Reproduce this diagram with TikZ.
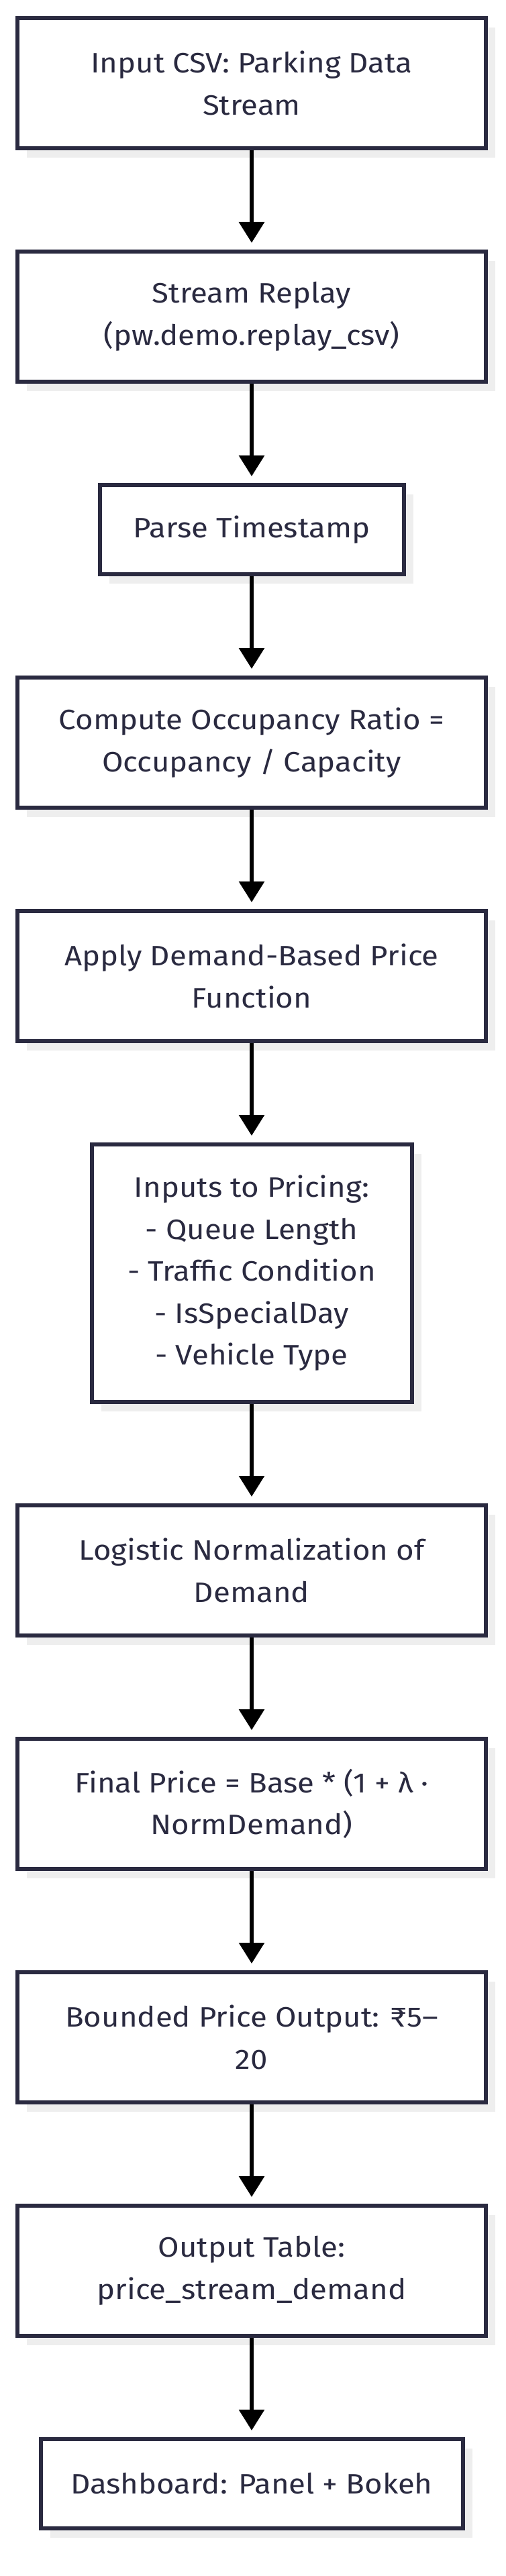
\documentclass[tikz,border=0pt]{standalone}
\usepackage{fontspec}
\setmainfont{Fira Sans}[FakeStretch=1.09]
\usepackage{tikz}
\usetikzlibrary{positioning}
\usetikzlibrary{arrows.meta}
\usetikzlibrary{shadows}
\definecolor{boxline}{HTML}{2A2A40}
\definecolor{boxshade}{HTML}{EEEEEE}
\tikzstyle{process} = [rectangle, minimum width=6.98cm, minimum height=1.94cm, text centered, align=center, draw=boxline, line width=0.06cm, fill=white, text=boxline, font=\fontsize{11.9pt}{17.8pt}\selectfont, drop shadow={shadow xshift=0.14cm, shadow yshift=-0.14cm, fill=boxshade, opacity=1}]
\tikzstyle{short} = [process, minimum height=1.33cm]
\tikzstyle{arrow} = [line width=0.06cm, -{Triangle[width=0.37cm,length=0.31cm]}, shorten >=0.1cm]

\begin{document}
\begin{tikzpicture}[node distance=1.48cm]
        \useasboundingbox (0,0) rectangle (7.54,-38.40);
        \node (input) [process] at (3.75,-1.24) {Input CSV: Parking Data\\Stream};
        \node (replay) [process, below=of input] {Stream Replay\\(pw.demo.replay\_csv)};
        \node (parse) [short, minimum width=4.53cm, below=of replay] {Parse Timestamp};
        \node (occupancy) [process, below=of parse] {Compute Occupancy Ratio =\\Occupancy / Capacity};
        \node (demand) [process, below=of occupancy] {Apply Demand-Based Price\\Function};
        \node (inputs) [process, minimum width=4.77cm, minimum height=3.84cm, below=of demand] {Inputs to Pricing:\\- Queue Length\\- Traffic Condition\\- IsSpecialDay\\- Vehicle Type};
        \node (logistic) [process, below=of inputs] {Logistic Normalization of\\Demand};
        \node (final) [process, below=of logistic] {Final Price = Base * (1 + λ ·\\NormDemand)};
        \node (bounded) [process, below=of final] {Bounded Price Output: ₹5–\\20};
        \node (table) [process, below=of bounded] {Output Table:\\price\_stream\_demand};
        \node (dashboard) [short, minimum width=6.29cm, below=of table] {Dashboard: Panel + Bokeh};

        \draw [arrow] (input) -- (replay);
        \draw [arrow] (replay) -- (parse);
        \draw [arrow] (parse) -- (occupancy);
        \draw [arrow] (occupancy) -- (demand);
        \draw [arrow] (demand) -- (inputs);
        \draw [arrow] (inputs) -- (logistic);
        \draw [arrow] (logistic) -- (final);
        \draw [arrow] (final) -- (bounded);
        \draw [arrow] (bounded) -- (table);
        \draw [arrow] (table) -- (dashboard);
    \end{tikzpicture}
\end{document}
